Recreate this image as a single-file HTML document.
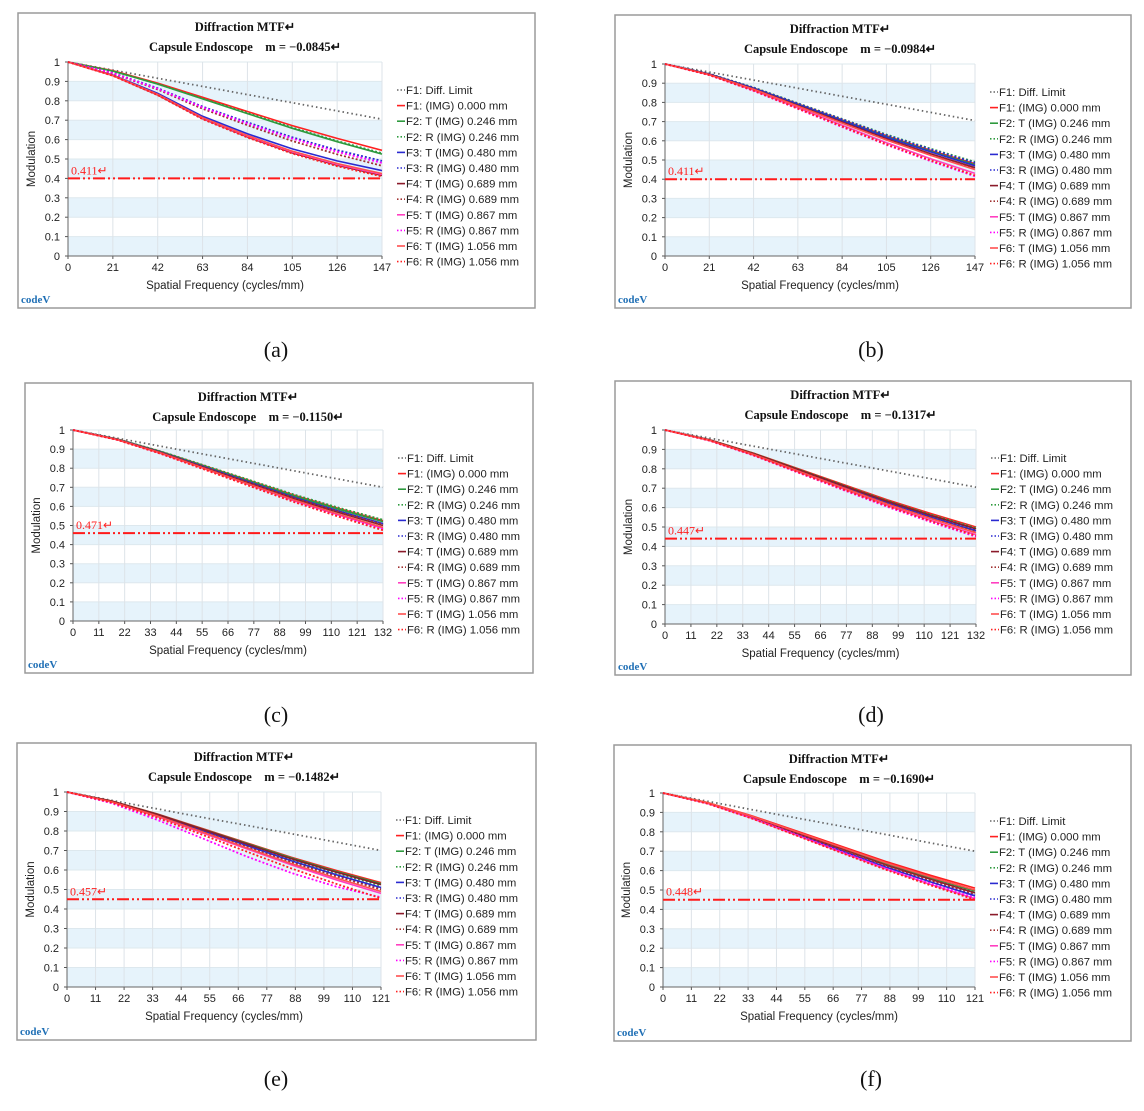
<!DOCTYPE html>
<html><head><meta charset="utf-8"><style>
body{margin:0;background:#fff;}
svg{display:block;}
</style></head><body>
<svg id="fig" width="1144" height="1111" xmlns="http://www.w3.org/2000/svg"></svg>
<script>
// ---- data ----
const panelLetters = ["a","b","c","d","e","f"];
const mValues = ["−0.0845","−0.0984","−0.1150","−0.1317","−0.1482","−0.1690"];
const maxFreqs = [147,147,132,132,121,121];
const tickSteps = [21,21,11,11,11,11];
const thresholdValues = [0.40,0.40,0.46,0.44,0.45,0.45];
const thresholdLabels = ["0.411","0.411","0.471","0.447","0.457","0.448"];
const yTicks = [0,0.1,0.2,0.3,0.4,0.5,0.6,0.7,0.8,0.9,1];
const sampleFractions = [0,1/7,2/7,3/7,4/7,5/7,6/7,1];
const seriesNames = ["F1: Diff. Limit","F1: (IMG) 0.000 mm","F2: T (IMG) 0.246 mm","F2: R (IMG) 0.246 mm","F3: T (IMG) 0.480 mm","F3: R (IMG) 0.480 mm","F4: T (IMG) 0.689 mm","F4: R (IMG) 0.689 mm","F5: T (IMG) 0.867 mm","F5: R (IMG) 0.867 mm","F6: T (IMG) 1.056 mm","F6: R (IMG) 1.056 mm"];
const seriesColors = ["#666","#ff2020","#2e9a3e","#2e9a3e","#2a2ad0","#2a2ad0","#8b1a2a","#a03030","#ff40c0","#ff00ff","#ff5050","#ff2020"];
const seriesDotted = [true,false,false,true,false,true,false,true,false,true,false,true];
const valuesA = [
[1,.958,.916,.874,.832,.79,.748,.705],
[1,.955,.891,.818,.745,.672,.606,.545],
[1,.953,.886,.81,.734,.658,.589,.525],
[1,.953,.887,.812,.737,.662,.593,.53],
[1,.933,.838,.72,.63,.552,.49,.44],
[1,.944,.865,.77,.689,.612,.546,.49],
[1,.93,.83,.708,.614,.532,.468,.415],
[1,.941,.858,.759,.674,.593,.524,.465],
[1,.93,.832,.71,.617,.536,.472,.42],
[1,.943,.862,.766,.683,.605,.537,.48],
[1,.931,.833,.713,.621,.54,.477,.425],
[1,.929,.829,.705,.611,.528,.463,.41]];
const valuesB = [
[1,.958,.916,.874,.832,.79,.748,.705],
[1,.948,.875,.792,.709,.626,.55,.48],
[1,.948,.874,.79,.706,.622,.546,.475],
[1,.949,.878,.796,.714,.633,.559,.49],
[1,.947,.873,.788,.703,.618,.542,.47],
[1,.949,.876,.794,.712,.629,.555,.485],
[1,.946,.87,.784,.698,.611,.533,.46],
[1,.946,.869,.782,.695,.608,.529,.455],
[1,.943,.863,.772,.681,.590,.507,.43],
[1,.942,.86,.766,.672,.579,.494,.415],
[1,.945,.868,.78,.692,.604,.524,.45],
[1,.942,.861,.768,.675,.582,.498,.42]];
const valuesC = [
[1,.957,.914,.871,.829,.786,.743,.70],
[1,.953,.886,.81,.734,.658,.589,.525],
[1,.952,.885,.808,.731,.654,.585,.52],
[1,.953,.887,.812,.737,.662,.593,.53],
[1,.951,.882,.804,.726,.647,.576,.51],
[1,.951,.881,.802,.723,.644,.572,.505],
[1,.95,.88,.8,.72,.64,.568,.5],
[1,.951,.881,.802,.723,.644,.572,.505],
[1,.949,.876,.794,.712,.629,.555,.485],
[1,.948,.875,.792,.709,.626,.55,.48],
[1,.949,.878,.796,.714,.633,.559,.49],
[1,.948,.874,.79,.706,.622,.546,.475]];
const valuesD = [
[1,.958,.916,.874,.832,.79,.748,.705],
[1,.95,.88,.8,.72,.64,.568,.5],
[1,.949,.878,.796,.714,.633,.559,.49],
[1,.95,.879,.798,.717,.636,.563,.495],
[1,.948,.875,.792,.709,.626,.55,.48],
[1,.949,.876,.794,.712,.629,.555,.485],
[1,.949,.878,.796,.714,.633,.559,.49],
[1,.948,.874,.79,.706,.622,.546,.475],
[1,.946,.87,.784,.698,.611,.533,.46],
[1,.945,.868,.78,.692,.604,.524,.45],
[1,.947,.873,.788,.703,.618,.542,.47],
[1,.946,.869,.782,.695,.608,.529,.455]];
const valuesE = [
[1,.957,.914,.871,.829,.786,.743,.70],
[1,.954,.888,.814,.74,.665,.598,.535],
[1,.953,.887,.812,.737,.662,.593,.53],
[1,.952,.885,.808,.731,.654,.585,.52],
[1,.951,.882,.804,.726,.647,.576,.51],
[1,.951,.881,.802,.723,.644,.572,.505],
[1,.953,.886,.81,.734,.658,.589,.525],
[1,.95,.88,.8,.72,.64,.568,.5],
[1,.948,.875,.792,.709,.626,.55,.48],
[1,.942,.858,.764,.67,.585,.515,.46],
[1,.949,.878,.796,.714,.633,.559,.49],
[1,.946,.869,.782,.695,.608,.529,.455]];
const valuesF = [
[1,.957,.914,.871,.829,.786,.743,.70],
[1,.951,.882,.804,.726,.647,.576,.51],
[1,.95,.879,.798,.717,.636,.563,.495],
[1,.949,.878,.796,.714,.633,.559,.49],
[1,.947,.873,.788,.703,.618,.542,.47],
[1,.948,.874,.79,.706,.622,.546,.475],
[1,.949,.876,.794,.712,.629,.555,.485],
[1,.948,.875,.792,.709,.626,.55,.48],
[1,.946,.869,.782,.695,.608,.529,.455],
[1,.946,.87,.784,.698,.611,.533,.46],
[1,.95,.88,.8,.72,.64,.568,.5],
[1,.945,.868,.78,.692,.604,.524,.45]];
const panelValues = [valuesA,valuesB,valuesC,valuesD,valuesE,valuesF];

// ---- layout ----
const frames = [[18,13,517,295],[615,15,516,293],[25,383,508,290],[615,381,516,294],[17,743,519,297],[614,745,517,296]];
const plots = [[68,62,314,194],[665,64,310,192],[73,430,310,191],[665,430,311,194],[67,792,314,195],[663,793,312,194]];
const captionPos = [[276,349],[871,349],[276,714],[871,714],[276,1078],[871,1078]];

const NS="http://www.w3.org/2000/svg";
const svg=document.getElementById('fig');
function mk(tag,attrs,parent){const e=document.createElementNS(NS,tag);for(const k in attrs)e.setAttribute(k,attrs[k]);(parent||svg).appendChild(e);return e;}

panelLetters.forEach((letter,p)=>{
  const g=mk('g',{});
  
  
  const [fx,fy,fw,fh]=frames[p];
  const [px,py,pw,ph]=plots[p];
  const fr=mk('rect',{x:fx,y:fy,width:fw,height:fh,fill:'#fff',stroke:'#9a9a9a','stroke-width':1.5},g);
  
  
  const xMax=maxFreqs[p];
  const X=v=>px+v/xMax*pw;
  const Y=v=>py+ph-v*ph;
  for(let i=0;i<10;i+=2){
    const b=mk('rect',{x:px,y:Y(yTicks[i+1]),width:pw,height:Y(yTicks[i])-Y(yTicks[i+1]),fill:'#e6f3fb'},g);
    
    
  }
  yTicks.forEach(t=>{
    const l=mk('line',{x1:px,x2:px+pw,y1:Y(t),y2:Y(t),stroke:'#dde8ee','stroke-width':1},g);
    
    
    const tx=mk('text',{x:px-8,y:Y(t)+4,'text-anchor':'end','font-size':11,fill:'#222','font-family':'Liberation Sans, sans-serif'},g);
    tx.textContent=String(t);
    
    
    mk('line',{x1:px-3,x2:px,y1:Y(t),y2:Y(t),stroke:'#555'},g);
  });
  for(let v=0;v<=xMax+0.001;v+=tickSteps[p]){
    const l=mk('line',{x1:X(v),x2:X(v),y1:py,y2:py+ph,stroke:'#dde3e8','stroke-width':1},g);
    
    
    mk('line',{x1:X(v),x2:X(v),y1:py+ph,y2:py+ph+3,stroke:'#555'},g);
    const tx=mk('text',{x:X(v),y:py+ph+15,'text-anchor':'middle','font-size':11,fill:'#222','font-family':'Liberation Sans, sans-serif'},g);
    tx.textContent=String(v);
    
    
  }
  mk('line',{x1:px,x2:px+pw,y1:py+ph,y2:py+ph,stroke:'#666'},g);
  mk('line',{x1:px,x2:px,y1:py,y2:py+ph,stroke:'#666'},g);
  panelValues[p].forEach((vals,s)=>{
    const d=vals.map((v,i)=>(i?'L':'M')+X(sampleFractions[i]*xMax).toFixed(1)+','+Y(v).toFixed(1)).join(' ');
    const a={d:d,fill:'none',stroke:seriesColors[s],'stroke-width':seriesDotted[s]?1.8:1.6};
    if(seriesDotted[s]) a['stroke-dasharray']=s===0?'1.5,3':'2,2';
    const path=mk('path',a,g);
    
    
  });
  const th=mk('line',{x1:px,x2:px+pw,y1:Y(thresholdValues[p]),y2:Y(thresholdValues[p]),stroke:'#ff1a1a','stroke-width':2,'stroke-dasharray':'12,3,2,3,2,3'},g);
  
  
  const tl=mk('text',{x:px+3,y:Y(thresholdValues[p])-4,'font-size':12,fill:'#ff2020','font-family':'Liberation Serif, serif'},g);
  tl.textContent=thresholdLabels[p]+'↵';
  
  
  const cx=px+pw/2+20;
  const t1=mk('text',{x:cx,y:fy+18,'text-anchor':'middle','font-size':12.5,'font-weight':'bold',fill:'#111','font-family':'Liberation Serif, serif'},g);
  t1.textContent='Diffraction MTF↵';
  
  
  const t2=mk('text',{x:cx,y:fy+38,'text-anchor':'middle','font-size':12.5,'font-weight':'bold',fill:'#111','font-family':'Liberation Serif, serif',style:'white-space:pre'},g);
  t2.textContent='Capsule Endoscope    m = '+mValues[p]+'↵';
  
  
  const xt=mk('text',{x:px+pw/2,y:py+ph+33,'text-anchor':'middle','font-size':11.5,fill:'#222','font-family':'Liberation Sans, sans-serif'},g);
  xt.textContent='Spatial Frequency (cycles/mm)';
  
  
  const yt=mk('text',{x:0,y:0,'text-anchor':'middle','font-size':11.5,fill:'#222','font-family':'Liberation Sans, sans-serif',transform:`translate(${px-33},${py+ph/2}) rotate(-90)`},g);
  yt.textContent='Modulation';
  
  
  seriesNames.forEach((n,s)=>{
    const ly=py+32+s*15.6;
    const lx=px+pw+15;
    const a={x1:lx,x2:lx+8,y1:ly-4,y2:ly-4,stroke:seriesColors[s],'stroke-width':1.6};
    if(seriesDotted[s]) a['stroke-dasharray']='1.5,2';
    mk('line',a,g);
    const lt=mk('text',{x:lx+9,y:ly,'font-size':11.3,fill:'#222','font-family':'Liberation Sans, sans-serif'},g);
    lt.textContent=n;
    
    
  });
  const logo=mk('text',{x:fx+3,y:fy+fh-5,'font-size':11,'font-weight':'bold',fill:'#1f6fb5','font-family':'Liberation Serif, serif'},g);
  logo.textContent='codeV';
  
  
  const cap=mk('text',{x:captionPos[p][0],y:captionPos[p][1]+8,'text-anchor':'middle','font-size':22,fill:'#111','font-family':'Liberation Serif, serif'},svg);
  cap.textContent='('+letter+')';
  
  
});
</script>
</body></html>
